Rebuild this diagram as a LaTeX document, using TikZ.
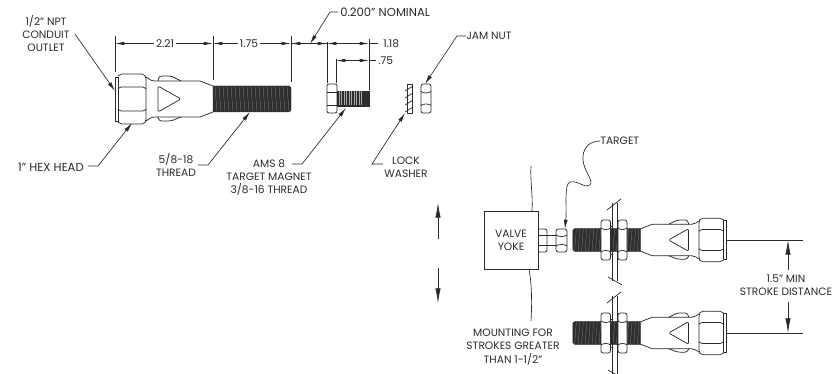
\documentclass[tikz,border=0pt]{standalone}
\usepackage{fontspec}
\setmainfont{Poppins}
\usetikzlibrary{arrows.meta}
\definecolor{ink}{HTML}{2A2A2A}
\tikzset{
  x=0.75pt,y=-0.75pt,
  part/.style={draw=ink,line width=0.55pt,line join=round},
  threadfill/.style={fill=black!82,draw=ink,line width=0.35pt},
  lead/.style={draw=ink,line width=0.5pt},
  tiparrow/.style={-{Latex[length=7pt,width=3pt]}},
  bigarrow/.style={-{Latex[length=11pt,width=4pt]},draw=ink,line width=0.5pt},
  dimarrow/.style={-{Latex[length=7pt,width=2.6pt]},draw=ink,line width=0.5pt},
  label/.style={font=\fontsize{8}{10}\selectfont,text=ink,align=center,inner sep=0pt},
  widelabel/.style={label,font=\fontsize{8.7}{10}\selectfont},
}
% sensor, drawn with its hex head at the origin point, thread towards +x
\newcommand{\sensorbody}{%
  \path[threadfill] (98,-13) -- (174,-13) -- (176,-11) -- (176,11) -- (174,13) -- (98,13) -- cycle;
  \foreach \tx in {100,104,...,172}{\draw[white!55!black,line width=0.2pt] (\tx,-12.5) -- (\tx+2,12.5);}
  % hex head
  \draw[part] (0,-22) -- (3,-22) -- (3,22) -- (0,22) -- cycle;
  \draw[part,rounded corners=1.5pt] (3,-23) -- (5,-25) -- (29,-25) -- (31,-22) -- (31,22) -- (29,25) -- (5,25) -- (3,23);
  \draw[part,rounded corners=1pt] (3,-10) -- (5,-12) -- (29,-12) -- (31,-10);
  \draw[part,rounded corners=1pt] (3,10) -- (5,12) -- (29,12) -- (31,10);
  % neck and body
  \draw[part] (31,-22) .. controls (34,-20) and (36,-18) .. (40,-18) -- (85,-18) -- (98,-13);
  \draw[part] (31,22) .. controls (34,20) and (36,18) .. (40,18) -- (85,18) -- (98,13);
  % tabs
  \draw[part,rounded corners=2pt] (43,-18) -- (44,-23) -- (56,-23) -- (66,-18);
  \draw[part,rounded corners=2pt] (43,18) -- (44,22) -- (56,22) -- (66,18);
  % triangle
  \draw[part,rounded corners=1.5pt] (43,-13) -- (66,0) -- (43,13) -- cycle;
}
% nut with three lobes, left x, right x, half height, half height of the middle flat
\newcommand{\lobednut}[4]{%
  \draw[part,fill=white,rounded corners=1.6pt] (#1,-#3) -- (#2,-#3) -- (#2,#3) -- (#1,#3) -- cycle;
  \draw[part] (#1,-#4) .. controls (#1+2,-#4+2) and (#2-2,-#4+2) .. (#2,-#4);
  \draw[part] (#1,#4) .. controls (#1+2,#4-2) and (#2-2,#4-2) .. (#2,#4);
}
\newcommand{\mounting}{%
  \draw[part] (612,-37) -- (612,41);
  \draw[part] (617,-37) -- (617,41);
  \draw[part] (607,-30) -- (621,-41);
  \draw[part] (608,37) -- (622,45);
  \lobednut{601}{610.5}{20}{12}
  \lobednut{618}{627}{20}{12}
  \draw[part] (610.5,-14) -- (612,-14) (610.5,14) -- (612,14);
}
\begin{document}
\begin{tikzpicture}
\useasboundingbox (0,0) rectangle (833,374);
% ----- upper sensor
\begin{scope}[shift={(115,99)}]\sensorbody\end{scope}
% dimension extension lines
\coordinate (e1) at (115,36); \coordinate (e1b) at (115,72);
\coordinate (e2) at (213,36); \coordinate (e2b) at (213,80);
\coordinate (e3) at (291,36); \coordinate (e3b) at (291,82);
\draw[lead] (e1)--(e1b) (e2)--(e2b) (e3)--(e3b);
\node[label] (d221) at (165,43.5) {2.21};
\node[label] (d175) at (249,43.5) {1.75};
\draw[dimarrow] (d221.west)++(-2,0) -- (115,43.5);
\draw[dimarrow] (d221.east)++(2,0) -- (213,43.5);
\draw[dimarrow] (d175.west)++(-2,0) -- (213,43.5);
\draw[dimarrow] (d175.east)++(2,0) -- (291,43.5);
% 0.200 nominal
\draw[dimarrow] (301,43.5) -- (291,43.5);
\draw[dimarrow] (317,43.5) -- (327,43.5);
\draw[lead] (291,43.5) -- (327,43.5);
% ----- target magnet
\path[threadfill] (337,91) rectangle (369,106);
\foreach \tx in {339,341.5,...,362}{\draw[white!65!black,line width=0.3pt] (\tx,91.5) -- (\tx,105.5);}
\draw[part,rounded corners=1.5pt] (327,84) -- (337,84) -- (337,113) -- (327,113) -- cycle;
\draw[part] (327,92) -- (337,92) (327,105) -- (337,105);
\draw[lead] (327,42)--(327,83) (369,39)--(369,90) (336,59)--(336,83);
\draw[dimarrow] (345,43.5) -- (327,43.5);
\draw[dimarrow] (345,43.5) -- (369,43.5);
\draw[lead] (369,43.5) -- (378,43.5);
\node[label,anchor=west] (d118) at (383,43.5) {1.18};
\draw[dimarrow] (352,60.5) -- (336,60.5);
\draw[dimarrow] (352,60.5) -- (369,60.5);
\draw[lead] (369,60.5) -- (376,60.5);
\node[label,anchor=west] (d75) at (378,60.5) {.75};
% ----- lock washer and jam nut
\draw[part] (407,84) rectangle (412,113);
\foreach \wy in {86,93,100,107}{\draw[part] (405,\wy+5) -- (413,\wy);}
\begin{scope}[shift={(0,98.5)}]\lobednut{421}{431}{14.5}{7}\end{scope}
% ----- labels and leaders, upper part
\node[label] (npt) at (46,33.5) {1/2'' NPT\\CONDUIT\\OUTLET};
\coordinate (npttip) at (115,91);
\draw[lead,tiparrow] (75,34) -- (npttip);
\node[widelabel,anchor=east] (hex) at (84,167) {1'' HEX HEAD};
\coordinate (hextip) at (132,123);
\coordinate (hexk) at (98,166);
\draw[lead,tiparrow] (hex.east)++(4,-1) -- (hexk) -- (hextip);
\node[label] (thr) at (176,165) {5/8-18\\THREAD};
\coordinate (thrtip) at (250,112); \coordinate (thrk) at (208,165);
\draw[lead,tiparrow] (198,165) -- (thrk) -- (thrtip);
\node[label] (ams) at (269,177.5) {AMS 8\\TARGET MAGNET\\3/8-16 THREAD};
\coordinate (amstip) at (346,108); \coordinate (amsk) at (302,164);
\draw[lead,tiparrow] (292,164) -- (amsk) -- (amstip);
\node[widelabel,anchor=west] (nom) at (340,12) {0.200'' NOMINAL};
\coordinate (nomtip) at (310,44); \coordinate (nomk) at (330,12);
\draw[lead,tiparrow] (nom.west)++(-2,0) -- (nomk) -- (nomtip);
\node[label,anchor=west] (jam) at (466,36) {JAM NUT};
\coordinate (jamtip) at (425,84); \coordinate (jamk) at (457,36);
\draw[lead,tiparrow] (jam.west) -- (jamk) -- (jamtip);
\node[label] (lock) at (406,167.5) {LOCK\\WASHER};
\coordinate (locktip) at (405,113); \coordinate (lockk) at (372,164);
\draw[lead,tiparrow] (383,164) -- (lockk) -- (locktip);
% ----- right assembly
\node[draw=ink,line width=0.5pt,minimum width=40.5pt,minimum height=43.5pt,inner sep=0pt,label] (yoke) at (511,240) {VALVE\\YOKE};
\draw[lead] (531,166) .. controls (530,180) and (533,195) .. (532,211);
\draw[lead] (529,269) .. controls (532,285) and (532,305) .. (531,321);
% yoke hardware
\draw[part,rounded corners=1.5pt] (538,229) -- (547,229) -- (547,252) -- (538,252);
\draw[part] (538,235) -- (558,235) (538,245) -- (558,245);
\begin{scope}[shift={(0,240.5)}]\lobednut{556}{567}{11.5}{5.5}\end{scope}
% sensors
\begin{scope}[shift={(726,240)},xscale=-0.87,yscale=0.87]\sensorbody\end{scope}
\begin{scope}[shift={(726,333)},xscale=-0.87,yscale=0.87]\sensorbody\end{scope}
\begin{scope}[shift={(0,240)}]\mounting\end{scope}
\begin{scope}[shift={(0,333)}]\mounting\end{scope}
% target leader
\node[label,anchor=west] (tgt) at (600,141) {TARGET};
\coordinate (tgttip) at (565,229);
\draw[lead,tiparrow] (tgt.west) .. controls (588,141) and (582,150) .. (583,160) .. controls (584,172) and (594,180) .. (590,185) .. controls (585,189) and (578,180) .. (570,182) .. controls (564,184) and (567,205) .. (tgttip);
% motion arrows
\coordinate (up) at (438,203); \coordinate (down) at (438,303);
\draw[bigarrow] (438,239) -- (up);
\draw[bigarrow] (438,268) -- (down);
% stroke distance
\draw[lead] (726,240) -- (803,240) (726,333) -- (803,333);
\node[label] (stroke) at (786,285.5) {1.5'' MIN\\STROKE DISTANCE};
\draw[bigarrow] (788,270) -- (788,240);
\draw[bigarrow] (788,302) -- (788,333);
\node[label] (mount) at (513,347) {MOUNTING FOR\\STROKES GREATER\\THAN 1-1/2''};
\end{tikzpicture}
\end{document}
